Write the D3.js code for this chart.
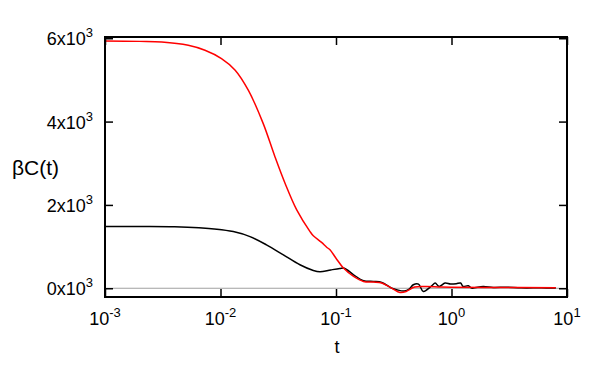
<!DOCTYPE html>
<html>
<head>
<meta charset="utf-8">
<script src="https://cdn.jsdelivr.net/npm/d3@7"></script>
<style>
  body { margin: 0; background: #fff; }
  svg { display: block; font-family: "Liberation Sans", Arial, sans-serif; }
</style>
</head>
<body>
<svg id="chart" width="600" height="375"></svg>
<script>
// values: [t, beta*C(t)]
const blackT = [0.001, 0.002, 0.004, 0.0093, 0.0129, 0.018, 0.025, 0.035, 0.0487, 0.0636, 0.0726, 0.09, 0.108, 0.118, 0.142, 0.173, 0.211, 0.249, 0.3, 0.34, 0.39, 0.43, 0.467, 0.518, 0.57, 0.674, 0.722, 0.78, 0.88, 0.98, 1.1, 1.2, 1.26, 1.4, 1.49, 1.88, 2.3, 3, 4, 6, 8];
const blackV = [1483, 1482, 1475, 1418, 1360, 1240, 1042, 802, 563, 426, 395, 440, 474, 482, 323, 180, 163, 139, 10, -40, -65, -20, 84, 100, -77, 60, 125, 43, 125, 101, 108, 125, 43, 60, 5, 43, 19, 25, 10, 10, 5];

const redT = [0.001, 0.002, 0.0031, 0.00526, 0.00734, 0.0102, 0.0134, 0.0174, 0.0234, 0.0296, 0.0362, 0.0457, 0.0596, 0.0636, 0.075, 0.083, 0.0887, 0.1, 0.116, 0.142, 0.173, 0.211, 0.249, 0.303, 0.358, 0.405, 0.48, 0.6, 0.8, 1, 2, 8];
const redV = [5935, 5925, 5911, 5832, 5713, 5513, 5234, 4754, 3957, 3157, 2520, 1880, 1360, 1260, 1100, 985, 922, 720, 484, 283, 163, 148, 125, 5, -100, -77, 29, 43, 30, 25, 20, 15];

const xTicks = [1e-3, 1e-2, 1e-1, 1e0, 1e1];
const xTickExp = ["-3", "-2", "-1", "0", "1"];
const yTicks = [0, 2000, 4000, 6000];
const yTickMant = ["0", "2", "4", "6"];

const margin = {top: 37, right: 33, bottom: 78, left: 105};
const width = 600, height = 375;

const svg = d3.select("#chart");

const x = d3.scaleLog()
  .domain([1e-3, 10])
  .range([margin.left, width - margin.right]);

const y = d3.scaleLinear()
  .domain([-210, 6030])
  .range([height - margin.bottom, margin.top]);

// zero line
svg.append("line")
  .attr("x1", x(1e-3)).attr("x2", x(10))
  .attr("y1", y(0)).attr("y2", y(0))
  .attr("stroke", "#a0a0a0").attr("stroke-width", 1.2);

// curves
const line = d3.line()
  .x(d => x(d[0]))
  .y(d => y(d[1]))
  .curve(d3.curveCatmullRom.alpha(0.5));

svg.append("path")
  .datum(blackT.map((t, i) => [t, blackV[i]]))
  .attr("fill", "none")
  .attr("stroke", "#000")
  .attr("stroke-width", 1.5)
  .attr("d", line);

svg.append("path")
  .datum(redT.map((t, i) => [t, redV[i]]))
  .attr("fill", "none")
  .attr("stroke", "#ff0000")
  .attr("stroke-width", 1.5)
  .attr("d", line);

// ticks, inward on all four sides
const tickLen = 8;
svg.append("g").call(d3.axisBottom(x).tickValues(xTicks).tickSize(-tickLen).tickFormat(""))
  .attr("transform", `translate(0,${height - margin.bottom})`);
svg.append("g").call(d3.axisTop(x).tickValues(xTicks).tickSize(-tickLen).tickFormat(""))
  .attr("transform", `translate(0,${margin.top})`);
svg.append("g").call(d3.axisLeft(y).tickValues(yTicks).tickSize(-tickLen).tickFormat(""))
  .attr("transform", `translate(${margin.left},0)`);
svg.append("g").call(d3.axisRight(y).tickValues(yTicks).tickSize(-tickLen).tickFormat(""))
  .attr("transform", `translate(${width - margin.right},0)`);
svg.selectAll(".domain").remove();
svg.selectAll(".tick line").attr("stroke", "#000").attr("stroke-width", 1.5);

// frame
svg.append("rect")
  .attr("x", x(1e-3)).attr("y", margin.top)
  .attr("width", x(10) - x(1e-3))
  .attr("height", height - margin.bottom - margin.top)
  .attr("fill", "none")
  .attr("stroke", "#000")
  .attr("stroke-width", 2);

// x tick labels
const xl = svg.append("g").selectAll("text")
  .data(xTicks)
  .enter().append("text")
  .attr("x", d => x(d))
  .attr("y", 325)
  .attr("text-anchor", "middle")
  .attr("font-size", 18);
xl.append("tspan").text("10");
xl.append("tspan").attr("dy", -8).attr("font-size", 13).text((d, i) => xTickExp[i]);

// y tick labels
const yl = svg.append("g").selectAll("text")
  .data(yTicks)
  .enter().append("text")
  .attr("x", 93)
  .attr("y", d => y(d) + 7)
  .attr("text-anchor", "end")
  .attr("font-size", 18);
yl.append("tspan").text((d, i) => yTickMant[i] + "x10");
yl.append("tspan").attr("dy", -8).attr("font-size", 13).text("3");

// axis titles
svg.append("text")
  .attr("x", x(0.1) + 1).attr("y", 353)
  .attr("text-anchor", "middle")
  .attr("font-size", 18)
  .text("t");

svg.append("text")
  .attr("x", 12).attr("y", 175)
  .attr("font-size", 21)
  .text("βC(t)");
</script>
</body>
</html>
